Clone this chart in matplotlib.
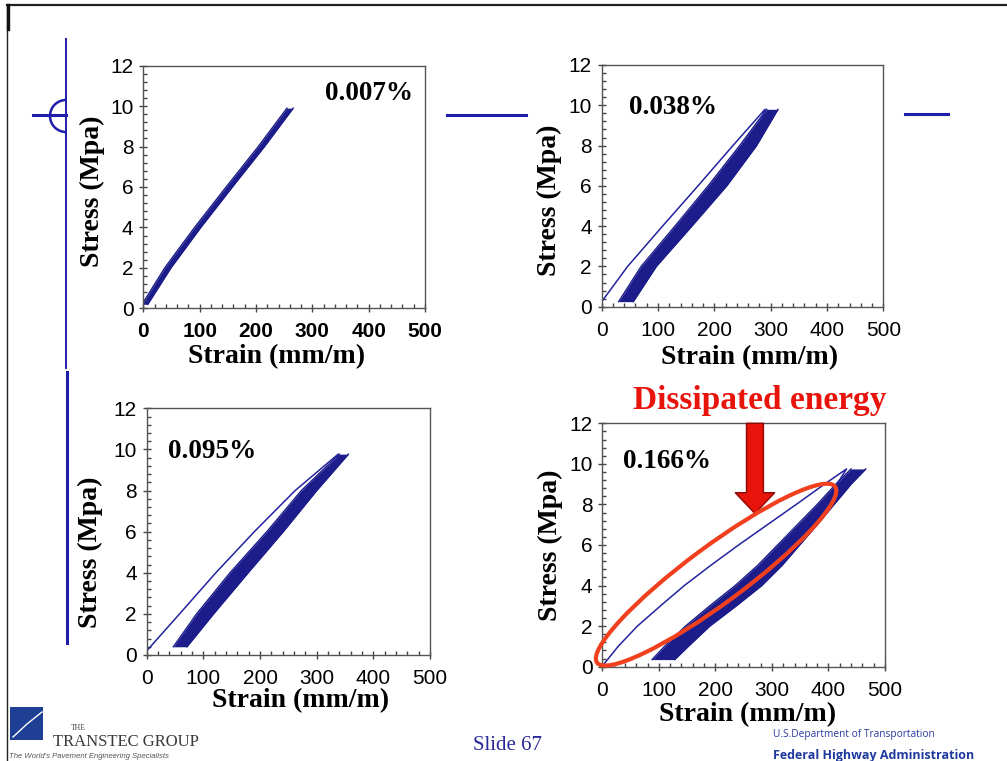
import matplotlib
matplotlib.use("Agg")
import matplotlib.pyplot as plt
import numpy as np
from matplotlib.lines import Line2D
from matplotlib.patches import Arc, Ellipse, FancyArrow, Rectangle
from matplotlib.ticker import MultipleLocator

W, H = 1007, 761
SERIF = "Liberation Serif"
SANS = "Liberation Sans"
NAVY = "#1c1c8a"
DECO_BLUE = "#1e1eaa"

# ---- data (strain in mm/m, stress in MPa) ----
LABELS = ["0.007%", "0.038%", "0.095%", "0.166%"]

# panel 1: one tight band, no visible first cycle
P1_STRESS = [0.2, 2, 4, 6, 8, 9.9]
P1_LEFT = [-2, 38, 91, 147, 204, 255]
P1_RIGHT = [8, 49, 102, 158, 215, 266]

# panel 2
P2_STRESS = [0.25, 2, 4, 6, 8, 9.8]
P2_LEFT = [30, 70, 130, 189, 245, 293]
P2_RIGHT = [56, 97, 160, 222, 275, 313]
P2_FIRST_STRAIN = [0, 46, 108, 171, 233, 290, 284]
P2_FIRST_STRESS = [0.25, 2, 4, 6, 8, 9.8, 9.3]

# panel 3
P3_STRESS = [0.4, 2, 4, 6, 8, 9.77]
P3_LEFT = [47, 88, 147, 212, 273, 340]
P3_RIGHT = [71, 118, 179, 241, 300, 356]
P3_FIRST_STRAIN = [0, 58, 122, 190, 262, 338, 333]
P3_FIRST_STRESS = [0.2, 2, 4, 6, 8, 9.77, 9.4]

# panel 4
P4_STRESS = [0.35, 1, 2, 3, 4, 5, 6, 7, 8, 9, 9.75]
P4_LEFT = [88, 110, 147, 190, 235, 275, 310, 345, 380, 413, 440]
P4_RIGHT = [128, 152, 190, 237, 282, 318, 349, 380, 410, 440, 466]
P4_FIRST_STRAIN = [2, 28, 62, 103, 145, 192, 241, 292, 343, 393, 432, 415]
P4_FIRST_STRESS = [0.1, 1, 2, 3, 4, 5, 6, 7, 8, 9, 9.75, 9.0]

# dissipated-energy ellipse tips (data coords) and arrow
ELLIPSE_TIPS = [(-4, 0.0), (417, 8.68)]
ARROW_X, ARROW_TOP, ARROW_TIP = 270, 12.0, 7.55

# axes boxes in pixels: left, top, right, bottom
BOXES = [(143.3, 65.7, 425, 308.3), (601.7, 65, 883.3, 306.7),
         (146.7, 408.3, 430, 655), (602.3, 423.3, 885, 666.7)]
TEXT_POS = [(400, 10.3), (127, 9.55), (115, 9.57), (115, 9.8)]
XLABEL_PX = [(276.7, 357), (750, 358), (300.7, 700.7), (748, 715)]
YLABEL_PX = [(92.5, 191.7), (549, 200.7), (90, 552.5), (550, 545)]


def fx(x):
    return x / W


def fy(y):
    return 1 - y / H


fig = plt.figure(figsize=(W / 100, H / 100), dpi=100)
fig.patch.set_facecolor("white")

bands = [
    (P1_STRESS, P1_LEFT, P1_RIGHT, None, None),
    (P2_STRESS, P2_LEFT, P2_RIGHT, P2_FIRST_STRAIN, P2_FIRST_STRESS),
    (P3_STRESS, P3_LEFT, P3_RIGHT, P3_FIRST_STRAIN, P3_FIRST_STRESS),
    (P4_STRESS, P4_LEFT, P4_RIGHT, P4_FIRST_STRAIN, P4_FIRST_STRESS),
]

axes = []
for i, (box, band) in enumerate(zip(BOXES, bands)):
    l, t, r, b = box
    ax = fig.add_axes([fx(l), fy(b), (r - l) / W, (b - t) / H])
    axes.append(ax)
    stress, left, right, first_x, first_y = band

    ax.fill_betweenx(stress, left, right, color=NAVY, lw=0)
    ax.plot(left, stress, color=NAVY, lw=1.0)
    ax.plot(right, stress, color=NAVY, lw=1.0)
    if first_x is not None:
        ax.plot(first_x, first_y, color="#2323a0", lw=1.1)

    ax.set_xlim(0, 500)
    ax.set_ylim(0, 12)
    ax.xaxis.set_major_locator(MultipleLocator(100))
    ax.xaxis.set_minor_locator(MultipleLocator(20))
    ax.yaxis.set_major_locator(MultipleLocator(2))
    ax.yaxis.set_minor_locator(MultipleLocator(0.4))
    ax.tick_params(which="major", direction="inout", length=6, width=1,
                   color="#444444", labelsize=15, pad=4)
    ax.tick_params(which="minor", direction="in", length=3, width=1,
                   color="#444444")
    ax.tick_params(axis="x", which="major", pad=7)
    for lab in ax.get_xticklabels() + ax.get_yticklabels():
        lab.set_family(SANS)
        if i == 0 and lab in ax.get_xticklabels():
            lab.set_weight("bold")
    for sp in ax.spines.values():
        sp.set_color("#555555")
        sp.set_linewidth(1.0)

    ax.set_xlabel("Strain (mm/m)", family=SERIF, weight="bold", fontsize=20)
    ax.set_ylabel("Stress (Mpa)", family=SERIF, weight="bold", fontsize=20)
    xl, yl = XLABEL_PX[i], YLABEL_PX[i]
    ax.xaxis.set_label_coords((xl[0] - l) / (r - l), (b - xl[1]) / (b - t))
    ax.yaxis.set_label_coords((yl[0] - l) / (r - l), (b - yl[1]) / (b - t))
    ax.xaxis.label.set_va("center")
    ax.yaxis.label.set_va("center")
    ax.yaxis.label.set_rotation_mode("anchor")

    ax.text(TEXT_POS[i][0], TEXT_POS[i][1], LABELS[i], family=SERIF,
            weight="bold", fontsize=19.5, ha="center", va="baseline")

# dissipated energy annotation on the last panel
ax4 = axes[3]
ax4.add_patch(FancyArrow(ARROW_X, ARROW_TOP, 0, ARROW_TIP - ARROW_TOP,
                         width=30, head_width=70, head_length=1.03,
                         length_includes_head=True, facecolor="#e8140c",
                         edgecolor="#8a0a05", lw=1.0, clip_on=False, zorder=5))
p1, p2 = ax4.transData.transform(ELLIPSE_TIPS)
centre = (p1 + p2) / 2
dx, dy = p2 - p1
ang = np.degrees(np.arctan2(dy, dx))
perp = np.array([-np.sin(np.radians(ang)), np.cos(np.radians(ang))])
centre = centre + 5 * perp
fig.add_artist(Ellipse(centre / fig.dpi, np.hypot(dx, dy) / fig.dpi, 0.57,
                       angle=ang, fill=False, edgecolor="#f0401e", lw=3.0,
                       transform=fig.dpi_scale_trans, zorder=6))
fig.text(fx(760), fy(409), "Dissipated energy", family=SERIF, weight="bold",
         fontsize=24, color="#e8140c", ha="center", va="baseline")

# slide frame and decorations
fig.add_artist(Line2D([fx(7), fx(1007)], [fy(5), fy(5)], color="#222222", lw=1.6))
fig.add_artist(Line2D([fx(7), fx(7)], [fy(5), fy(761)], color="#222222", lw=1.0))
fig.add_artist(Line2D([fx(8), fx(8)], [fy(5), fy(29)], color="#111111", lw=2.4))
fig.add_artist(Line2D([fx(66), fx(66)], [fy(39), fy(368)], color=DECO_BLUE, lw=1.4))
fig.add_artist(Line2D([fx(66.5), fx(66.5)], [fy(372), fy(643)], color=DECO_BLUE, lw=2.2))
fig.add_artist(Line2D([fx(33), fx(66)], [fy(115), fy(115)], color=DECO_BLUE, lw=2.2))
fig.add_artist(Arc((0.66, (H - 116) / 100), 0.32, 0.32, theta1=90, theta2=270,
                   color=DECO_BLUE, lw=1.8, transform=fig.dpi_scale_trans))
fig.add_artist(Line2D([fx(447), fx(526)], [fy(115), fy(115)], color=DECO_BLUE, lw=2.2))
fig.add_artist(Line2D([fx(905), fx(948)], [fy(114), fy(114)], color=DECO_BLUE, lw=2.2))

# footer
fig.add_artist(Rectangle((fx(10), fy(740)), 33 / W, 33 / H, facecolor="#1f3f95",
                         edgecolor="none", transform=fig.transFigure))
fig.add_artist(Line2D([fx(13), fx(27), fx(42)], [fy(737), fy(724), fy(712)],
                      color="white", lw=1.0))
fig.text(fx(78), fy(730), "THE", family=SERIF, fontsize=5.5, color="#444444",
         ha="center", va="baseline")
fig.text(fx(53), fy(746), "TRANSTEC GROUP", family=SERIF, fontsize=12,
         color="#3a3a3a", ha="left", va="baseline")
fig.text(fx(9), fy(758), "The World's Pavement Engineering Specialists",
         family=SANS, style="italic", fontsize=5.6, color="#555555",
         ha="left", va="baseline")
fig.text(fx(507), fy(750), "Slide 67", family=SERIF, fontsize=15,
         color="#28289a", ha="center", va="baseline")
fig.text(fx(773), fy(737), "U.S.Department of Transportation", family="Open Sans",
         fontsize=7.3, color="#2a3aa0", ha="left", va="baseline")
fig.text(fx(773), fy(759), "Federal Highway Administration", family="Open Sans",
         weight="bold", fontsize=9, color="#1f3a9e", ha="left", va="baseline")

fig.savefig("out.png", dpi=100)
